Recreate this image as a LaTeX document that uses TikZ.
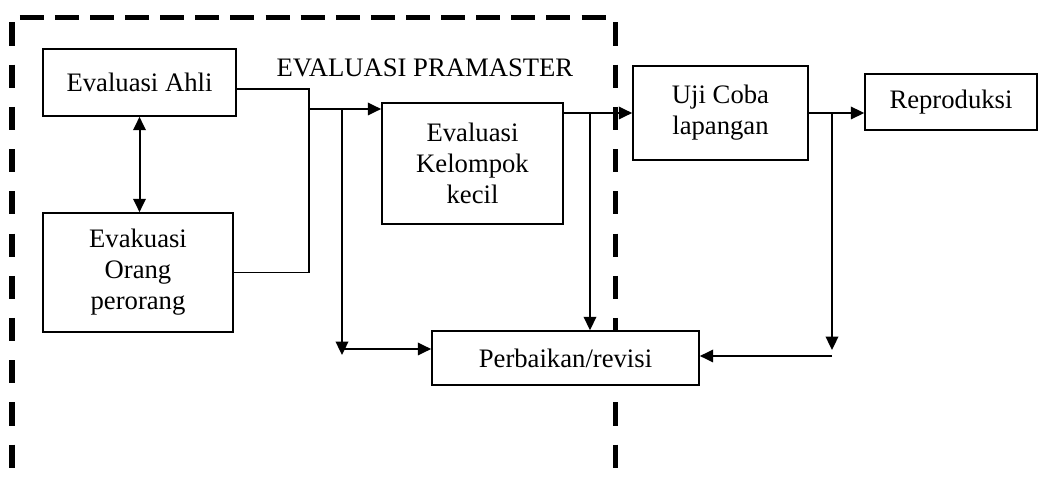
\documentclass[tikz,border=0pt]{standalone}
\usepackage{fontspec}
\setmainfont{Liberation Serif}
\usepackage{tikz}
\usetikzlibrary{arrows.meta,positioning}

\begin{document}
\begin{tikzpicture}[x=0.45pt,y=-0.45pt]
	\tikzstyle{every node}=[font=\fontsize{12}{14}\selectfont];
	\tikzstyle{kotak}=[draw,rectangle,align=center,line width=0.7pt,inner sep=2pt,fill=white];
	\tikzstyle{pth}=[draw,line width=0.9pt,-{Triangle[length=6pt,width=5.6pt]}];
	\tikzstyle{tipis}=[draw,line width=0.6pt];
	\tikzstyle{batas}=[draw,line width=2.25pt];
	\useasboundingbox (0,0) rectangle (1042,480);
	\draw[batas,dash pattern=on 10.8pt off 5pt,dash phase=-3.5pt] (12,18) -- (615,18);
	\draw[batas,dash pattern=on 10.4pt off 8.6pt,dash phase=-2pt] (12,18) -- (12,480);
	\draw[batas,dash pattern=on 10.4pt off 8.6pt,dash phase=-2pt] (615,18) -- (615,480);
	\node (ahli) [kotak,minimum width=86.9pt,minimum height=30.2pt] at (139.5,82.5) {Evaluasi Ahli};
	\node (orang) [kotak,minimum width=85.5pt,minimum height=53.6pt] at (138,272.5) {Evakuasi\\Orang\\perorang};
	\node (judul) at (425,68) {EVALUASI PRAMASTER};
	\node (kelompok) [kotak,minimum width=81.5pt,minimum height=54.5pt] at (472.5,163.5) {Evaluasi\\Kelompok\\kecil};
	\node (ujicoba) [kotak,minimum width=78.8pt,minimum height=42.3pt] at (720.5,113) {Uji Coba\\lapangan};
	\node (reproduksi) [kotak,minimum width=77.4pt,minimum height=25.2pt] at (951,102) {Reproduksi};
	\node (perbaikan) [kotak,minimum width=120.2pt,minimum height=24.3pt] at (565.5,358) {Perbaikan/revisi};
	\coordinate (gabung) at (309,89);
	\coordinate (masuk) at (309,109);
	\coordinate (j1) at (342,109);
	\coordinate (d1) at (342,355);
	\coordinate (h1) at (342,349);
	\coordinate (j2) at (590,113);
	\coordinate (j3) at (832,113);
	\coordinate (d3) at (832,350);
	\coordinate (h3) at (832,356);
	\draw[pth,{Triangle[length=6pt,width=5.6pt]}-{Triangle[length=6pt,width=5.6pt]}] (ahli.south) -- (ahli.south |- orang.north);
	\draw[tipis] (ahli.east |- gabung) -- (gabung) -- (gabung |- orang.east) -- (orang.east);
	\draw[pth] (masuk) -- (masuk -| kelompok.west);
	\draw[pth] (j1) -- (d1);
	\draw[pth] (h1) -- (h1 -| perbaikan.west);
	\draw[pth] (kelompok.east |- ujicoba.west) -- (ujicoba.west);
	\draw[pth] (j2) -- (j2 |- perbaikan.north);
	\draw[pth] (ujicoba.east) -- (ujicoba.east -| reproduksi.west);
	\draw[pth] (j3) -- (d3);
	\draw[pth] (h3) -- (h3 -| perbaikan.east);
\end{tikzpicture}
\end{document}
